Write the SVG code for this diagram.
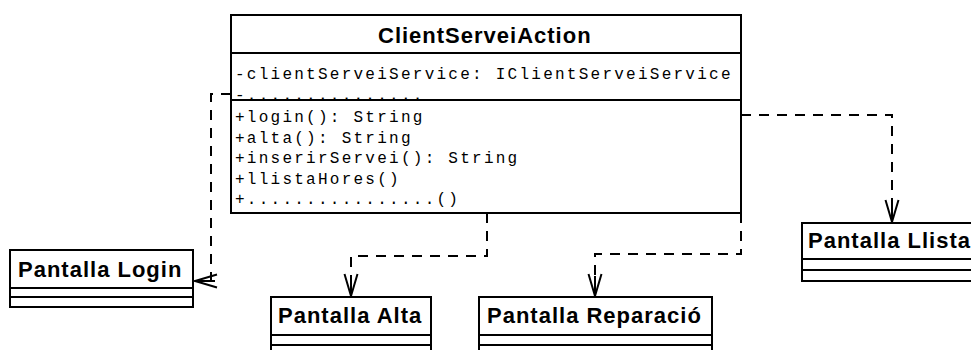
<svg xmlns="http://www.w3.org/2000/svg" width="971" height="350" viewBox="0 0 971 350">
  <style>
    .box { fill: #ffffff; stroke: #000000; stroke-width: 2; }
    .div { stroke: #000000; stroke-width: 2; fill: none; }
    .title { font-family: "Liberation Sans", Arial, sans-serif; font-weight: bold; font-size: 22px; letter-spacing: 1px; fill: #000000; }
    .mono { font-family: "Liberation Mono", "Courier New", monospace; font-size: 16px; letter-spacing: 2.25px; fill: #000000; }
    .dep { fill: none; stroke: #000000; stroke-width: 2; stroke-dasharray: 10 8; }
  </style>
  <defs>
    <!-- open arrowhead for dependency connectors -->
    <marker id="open-arrow" markerUnits="userSpaceOnUse" markerWidth="30" markerHeight="20" viewBox="-24 -10 26 20" refX="0" refY="0" orient="auto" overflow="visible">
      <path d="M-22,-6.5 L0,0 L-22,6.5 M-20,0 L0,0" fill="none" stroke="#000000" stroke-width="2" stroke-linejoin="miter"/>
    </marker>
  </defs>

  <rect width="971" height="350" fill="#ffffff"/>

  <!-- dependency connectors -->
  <g id="connectors">
    <path class="dep" d="M231,94 H211 V281 H195" marker-end="url(#open-arrow)"/>
    <path class="dep" d="M487,213 V256 H351 V296" marker-end="url(#open-arrow)"/>
    <path class="dep" d="M741,213 V254 H595 V296" marker-end="url(#open-arrow)"/>
    <path class="dep" d="M741,115 H892 V222" marker-end="url(#open-arrow)"/>
  </g>

  <!-- main action class -->
  <g id="ClientServeiAction">
    <rect class="box" x="231" y="15" width="510" height="198"/>
    <line class="div" x1="231" y1="53" x2="741" y2="53"/>
    <line class="div" x1="231" y1="100" x2="741" y2="100"/>
    <text class="title" x="378" y="43">ClientServeiAction</text>
    <text class="mono" x="235" y="79">-clientServeiService: IClientServeiService</text>
    <text class="mono" x="235" y="99.5">-...............</text>
    <text class="mono" x="235" y="122">+login(): String</text>
    <text class="mono" x="235" y="142.5">+alta(): String</text>
    <text class="mono" x="235" y="163">+inserirServei(): String</text>
    <text class="mono" x="235" y="183.5">+llistaHores()</text>
    <text class="mono" x="235" y="204">+................()</text>
  </g>

  <g id="PantallaLogin">
    <rect class="box" x="10" y="250" width="183" height="57"/>
    <line class="div" x1="10" y1="288" x2="193" y2="288"/>
    <line class="div" x1="10" y1="297" x2="193" y2="297"/>
    <text class="title" x="18" y="277">Pantalla Login</text>
  </g>

  <g id="PantallaAlta">
    <rect class="box" x="271" y="297" width="160" height="70"/>
    <line class="div" x1="271" y1="335" x2="431" y2="335"/>
    <line class="div" x1="271" y1="345" x2="431" y2="345"/>
    <text class="title" x="278" y="323">Pantalla Alta</text>
  </g>

  <g id="PantallaReparacio">
    <rect class="box" x="479" y="297" width="233" height="70"/>
    <line class="div" x1="479" y1="335" x2="712" y2="335"/>
    <line class="div" x1="479" y1="345" x2="712" y2="345"/>
    <text class="title" x="487" y="323">Pantalla Reparació</text>
  </g>

  <g id="PantallaLlista">
    <rect class="box" x="802" y="223" width="190" height="58"/>
    <line class="div" x1="802" y1="259" x2="992" y2="259"/>
    <line class="div" x1="802" y1="270" x2="992" y2="270"/>
    <text class="title" x="808" y="248">Pantalla Llista</text>
  </g>
</svg>
